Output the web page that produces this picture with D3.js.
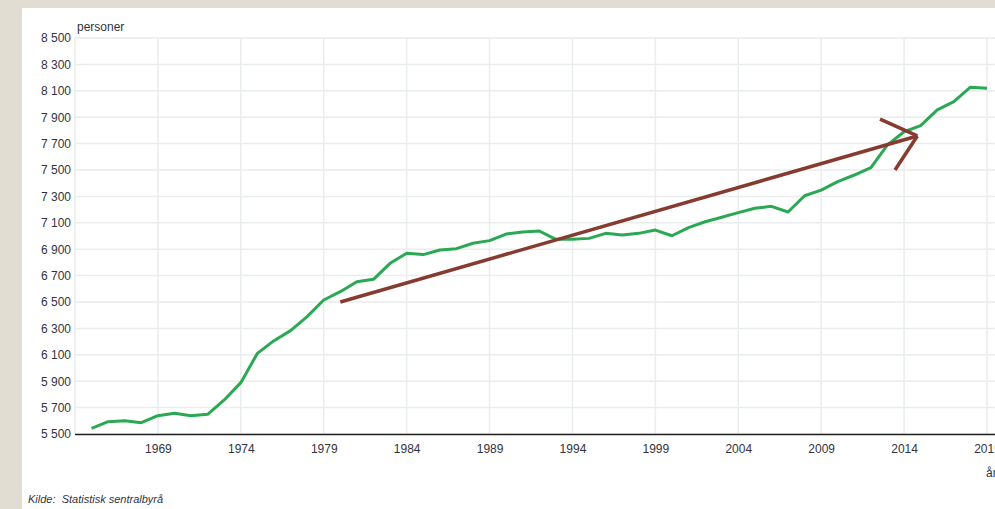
<!DOCTYPE html>
<html>
<head>
<meta charset="utf-8">
<script src="https://cdn.jsdelivr.net/npm/d3@7"></script>
<style>
  body { margin: 0; background: #e1ddd3; }
  svg { display: block; font-family: "Liberation Sans", Arial, sans-serif; }
</style>
</head>
<body>
<div id="chart"></div>
<script>
// Data
var years = d3.range(1965, 2020);
var persons = [
  5543, 5593, 5601, 5586, 5639, 5657, 5639, 5649, 5758, 5889,
  6111, 6207, 6283, 6389, 6515, 6578, 6654, 6672, 6793, 6869,
  6859, 6894, 6904, 6945, 6965, 7015, 7030, 7038, 6975, 6975,
  6982, 7020, 7008, 7020, 7045, 7002, 7063, 7108, 7142, 7177,
  7210, 7225, 7182, 7305, 7348, 7412, 7462, 7518, 7690, 7790,
  7836, 7955, 8018, 8127, 8119
];
var xTicks = [1964, 1969, 1974, 1979, 1984, 1989, 1994, 1999, 2004, 2009, 2014, 2019];
var yTicks = d3.range(5500, 8501, 200);

// hand-drawn trend arrow (year, value)
var arrowShaft = [[1980.0, 6500], [2014.8, 7758]];
var arrowHeadA = [[2012.55, 7886], [2014.8, 7758]];
var arrowHeadB = [[2013.45, 7500], [2014.8, 7758]];

var svg = d3.select("#chart")
    .append("svg")
    .attr("width", 995)
    .attr("height", 509);

// white panel
svg.append("rect")
    .attr("x", 22).attr("y", 8)
    .attr("width", 1000).attr("height", 520)
    .attr("fill", "#ffffff");

var xScale = d3.scaleLinear().domain([1964, 2019]).range([75, 987]);
var yScale = d3.scaleLinear().domain([5500, 8500]).range([434, 38]);

// grid
svg.append("g")
    .selectAll("line")
    .data(yTicks)
    .enter().append("line")
    .attr("x1", 75).attr("x2", 995)
    .attr("y1", function(d) { return yScale(d); })
    .attr("y2", function(d) { return yScale(d); })
    .style("stroke", "#eaeded")
    .style("stroke-width", 1.5);

svg.append("g")
    .selectAll("line")
    .data(xTicks)
    .enter().append("line")
    .attr("y1", 38).attr("y2", 434)
    .attr("x1", function(d) { return xScale(d); })
    .attr("x2", function(d) { return xScale(d); })
    .style("stroke", "#eaeded")
    .style("stroke-width", 1.5);

// y axis labels
var fmt = function(d) { return d3.format(",")(d).replace(",", " "); };
var yAxis = d3.axisLeft(yScale).tickValues(yTicks).tickSize(0).tickPadding(4).tickFormat(fmt);
var gy = svg.append("g")
    .attr("transform", "translate(75,0)")
    .call(yAxis);
gy.select(".domain").remove();
gy.selectAll("text")
    .style("font-size", "12px")
    .style("fill", "#333340")
    .style("font-family", "Liberation Sans, Arial, sans-serif");

// x axis
var xAxis = d3.axisBottom(xScale)
    .tickValues(xTicks.slice(1))
    .tickSize(0).tickPadding(10)
    .tickFormat(d3.format("d"));
var gx = svg.append("g")
    .attr("transform", "translate(0,434)")
    .call(xAxis);
gx.select(".domain").remove();
gx.selectAll("text")
    .style("font-size", "12px")
    .style("fill", "#333340")
    .style("font-family", "Liberation Sans, Arial, sans-serif");

svg.append("line")
    .attr("x1", 75).attr("x2", 995)
    .attr("y1", 434.5).attr("y2", 434.5)
    .style("stroke", "#222222")
    .style("stroke-width", 1.5);

svg.append("text")
    .attr("x", 986).attr("y", 477)
    .style("font-size", "12px")
    .style("fill", "#333340")
    .text("år");

svg.append("text")
    .attr("x", 77).attr("y", 31)
    .style("font-size", "12px")
    .style("fill", "#333340")
    .text("personer");

// series line
var line = d3.line()
    .x(function(d) { return xScale(d[0]); })
    .y(function(d) { return yScale(d[1]); });

svg.append("path")
    .datum(d3.zip(years, persons))
    .attr("d", line)
    .style("fill", "none")
    .style("stroke", "#2aa853")
    .style("stroke-width", 3)
    .style("stroke-linejoin", "round");

// arrow
[arrowShaft, arrowHeadA, arrowHeadB].forEach(function(seg) {
  svg.append("path")
      .datum(seg)
      .attr("d", line)
      .style("fill", "none")
      .style("stroke", "#853b30")
      .style("stroke-width", 3.5);
});

// source
svg.append("text")
    .attr("x", 28).attr("y", 503)
    .style("font-size", "11px")
    .style("font-style", "italic")
    .style("fill", "#333340")
    .attr("xml:space", "preserve")
    .text("Kilde:  Statistisk sentralbyrå");
</script>
</body>
</html>
